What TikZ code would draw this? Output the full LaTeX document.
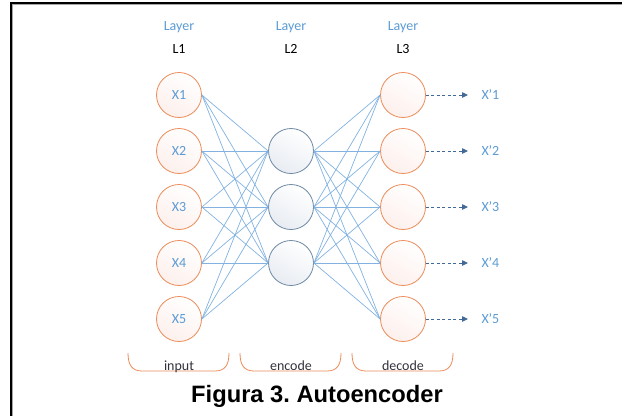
\documentclass[tikz,border=0pt]{standalone}
\usepackage{fontspec}
\setmainfont{Carlito}
\newfontfamily\titlefont{Liberation Sans}
\usetikzlibrary{arrows.meta}
\frenchspacing

\definecolor{labelblue}{RGB}{91,155,213}
\definecolor{edgeblue}{RGB}{130,178,225}
\definecolor{orangeline}{RGB}{235,140,90}
\definecolor{orangefill}{RGB}{253,240,236}
\definecolor{slateline}{RGB}{110,138,165}
\definecolor{slatefill}{RGB}{232,236,242}
\definecolor{arrowblue}{RGB}{65,105,150}
\definecolor{textgray}{RGB}{50,50,60}

\tikzset{
  visible/.style={circle, draw=orangeline, line width=0.8pt, minimum size=45pt,
    inner sep=0pt, shading=axis, top color=white, bottom color=orangefill,
    shading angle=-30, text=labelblue, font=\fontsize{14}{16}\selectfont},
  hidden/.style={circle, draw=slateline, line width=0.8pt, minimum size=45pt,
    inner sep=0pt, shading=axis, top color=white, bottom color=slatefill,
    shading angle=-30},
  link/.style={draw=edgeblue, line width=0.7pt},
  outarrow/.style={draw=arrowblue, line width=0.8pt,
    dash pattern=on 3pt off 2.5pt, -{Triangle[length=6pt,width=5.5pt]}},
  layertxt/.style={text=labelblue, font=\fontsize{14}{16}\selectfont},
  layernum/.style={text=black, font=\fontsize{14}{16}\selectfont},
  outtxt/.style={text=labelblue, font=\fontsize{14}{16}\selectfont, anchor=west},
  groupline/.style={draw=orangeline, line width=0.8pt},
  grouptxt/.style={text=textgray, font=\fontsize{14}{16}\selectfont, anchor=base},
}

\begin{document}
\begin{tikzpicture}[x=1pt,y=-1pt]
\useasboundingbox (0,0) rectangle (622,416);

% outer frame (top and left edges)
\draw[line width=2pt, black] (11,416) -- (11,3) -- (622,3);
\draw[line width=0.7pt, gray!70] (12.4,416) -- (12.4,4.4) -- (622,4.4);

% layer headings
\node[layertxt] (hd1) at (179,27) {Layer};
\node[layernum] (ln1) at (179,49) {L1};
\node[layertxt] (hd2) at (291,27) {Layer};
\node[layernum] (ln2) at (291,49) {L2};
\node[layertxt] (hd3) at (403,27) {Layer};
\node[layernum] (ln3) at (403,49) {L3};

% input layer
\foreach \i/\y in {1/95,2/151,3/207,4/263,5/319}
  \node[visible] (x\i) at (179,\y) {X\i};

% hidden layer
\foreach \j/\y in {1/151,2/207,3/263}
  \node[hidden] (h\j) at (291,\y) {};

% output layer
\foreach \k/\y in {1/95,2/151,3/207,4/263,5/319}
  \node[visible] (o\k) at (403,\y) {};

% full connections
\foreach \i in {1,...,5}
  \foreach \j in {1,2,3}
    \draw[link] (x\i.east) -- (h\j.west);
\foreach \j in {1,2,3}
  \foreach \k in {1,...,5}
    \draw[link] (h\j.east) -- (o\k.west);

% reconstructed outputs
\foreach \k/\y in {1/95,2/151,3/207,4/263,5/319} {
  \coordinate (tip\k) at (468,\y);
  \draw[outarrow] (o\k.east) -- (tip\k);
  \node[outtxt] (xo\k) at (478,\y) {X’\k};
}

% group brackets
\draw[groupline] (128,353) .. controls (128,365) and (132,371) .. (142,371)
  -- (215,371) .. controls (225,371) and (229,365) .. (229,353);
\draw[groupline] (240,353) .. controls (240,365) and (244,371) .. (254,371)
  -- (327,371) .. controls (337,371) and (341,365) .. (341,353);
\draw[groupline] (352,353) .. controls (352,365) and (356,371) .. (366,371)
  -- (439,371) .. controls (449,371) and (453,365) .. (453,353);
\node[grouptxt] (g1) at (179,370) {input};
\node[grouptxt] (g2) at (291,370) {encode};
\node[grouptxt] (g3) at (403,370) {decode};

% caption
\node[font=\titlefont\bfseries\fontsize{23.7}{26}\selectfont] (cap) at (317,396)
  {Figura 3. Autoencoder};
\end{tikzpicture}
\end{document}
